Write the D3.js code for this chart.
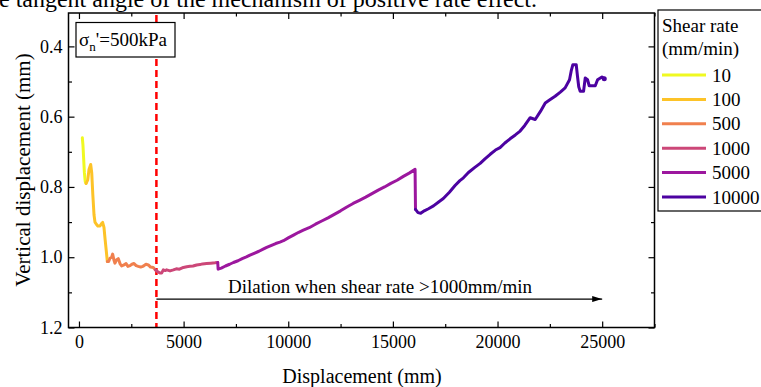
<!DOCTYPE html>
<html>
<head>
<meta charset="utf-8">
<script src="https://cdn.jsdelivr.net/npm/d3@7"></script>
<style>
  body { margin: 0; background: #fff; }
  svg { display: block; font-family: "Liberation Serif", "Times New Roman", serif; }
</style>
</head>
<body>
<div id="chart"></div>
<script>
// Vertical displacement vs shear displacement, coloured by shear rate
const rates = ["10", "100", "500", "1000", "5000", "10000"];
const rateColors = ["#f0f921", "#fdc328", "#f0804e", "#cc4778", "#9c179e", "#4c02a1"];

// [displacement (mm), vertical displacement (mm)] per shear-rate stage
const seg10 = [[160, 0.660], [190, 0.680], [220, 0.715], [260, 0.760], [300, 0.785], [340, 0.790]];
const seg100 = [[340, 0.790], [420, 0.780], [480, 0.750], [560, 0.736], [610, 0.760], [660, 0.820],
  [720, 0.880], [765, 0.900], [830, 0.906], [900, 0.911], [1004, 0.911], [1080, 0.904], [1130, 0.901],
  [1195, 0.915], [1250, 0.950], [1310, 0.985], [1355, 1.012]];
const seg500 = [[1355, 1.012], [1420, 1.012], [1480, 1.003], [1560, 1.000], [1610, 0.991], [1670, 1.008],
  [1720, 1.017], [1790, 1.008], [1880, 1.004], [1960, 1.018], [2040, 1.025], [2150, 1.022], [2250, 1.018],
  [2340, 1.026], [2440, 1.024], [2530, 1.020], [2630, 1.018], [2730, 1.024], [2835, 1.026], [2950, 1.028],
  [3050, 1.026], [3110, 1.024], [3200, 1.020], [3315, 1.022], [3420, 1.028], [3550, 1.029], [3650, 1.036]];
const seg1000 = [[3650, 1.036], [3750, 1.041], [3870, 1.045], [3950, 1.045], [4030, 1.036], [4120, 1.038],
  [4190, 1.036], [4350, 1.039], [4510, 1.036], [4650, 1.033], [4800, 1.034], [4990, 1.029], [5150, 1.027],
  [5300, 1.026], [5450, 1.025], [5620, 1.022], [5780, 1.021], [5900, 1.019], [6100, 1.018], [6300, 1.017],
  [6500, 1.016], [6630, 1.015]];
const seg5000 = [[6630, 1.015], [6650, 1.034], [6800, 1.031], [7000, 1.025], [7200, 1.020], [7380, 1.015],
  [7600, 1.010], [7800, 1.004], [8000, 0.999], [8170, 0.994], [8400, 0.988], [8600, 0.983], [8800, 0.977],
  [8970, 0.972], [9200, 0.966], [9400, 0.961], [9600, 0.957], [9770, 0.953], [10000, 0.945], [10250, 0.937],
  [10500, 0.929], [10720, 0.923], [11000, 0.916], [11300, 0.906], [11600, 0.897], [11900, 0.888],
  [12200, 0.878], [12500, 0.868], [12800, 0.857], [13100, 0.847], [13400, 0.838], [13700, 0.829],
  [14000, 0.819], [14300, 0.809], [14600, 0.800], [14900, 0.790], [15200, 0.781], [15500, 0.770],
  [15800, 0.760], [16060, 0.750], [16080, 0.864]];
const seg10000 = [[16080, 0.864], [16200, 0.873], [16330, 0.875], [16500, 0.868], [16700, 0.862],
  [16940, 0.854], [17200, 0.842], [17410, 0.833], [17700, 0.815], [17970, 0.796], [18200, 0.782],
  [18370, 0.774], [18610, 0.759], [18900, 0.745], [19170, 0.733], [19400, 0.720], [19650, 0.707],
  [19900, 0.695], [20120, 0.688], [20350, 0.675], [20600, 0.663], [20850, 0.652], [21080, 0.641],
  [21300, 0.625], [21560, 0.603], [21800, 0.608], [22050, 0.585], [22280, 0.561], [22500, 0.552],
  [22750, 0.542], [23000, 0.530], [23230, 0.518], [23440, 0.495], [23520, 0.470], [23600, 0.452],
  [23760, 0.452], [23820, 0.485], [23880, 0.515], [23950, 0.528], [24110, 0.528], [24190, 0.490],
  [24300, 0.495], [24380, 0.512], [24670, 0.512], [24780, 0.495], [24990, 0.487], [25100, 0.492]];
const segments = [seg10, seg100, seg500, seg1000, seg5000, seg10000];

const xMajorTicks = [0, 5000, 10000, 15000, 20000, 25000];
const xMinorTicks = [2500, 7500, 12500, 17500, 22500, 27500];
const yMajorTicks = [0.4, 0.6, 0.8, 1.0, 1.2];
const yMinorTicks = [0.5, 0.7, 0.9, 1.1];

const rateChangeDisp = 3700;      // red dashed marker
const dilationArrow = [3700, 25000]; // arrow span
const dilationLevel = 1.119;

const width = 761, height = 387;
const plot = { left: 68.5, right: 654.5, top: 13, bottom: 327.5 };

const svg = d3.select("#chart").append("svg")
  .attr("width", width).attr("height", height);

const x = d3.scaleLinear().domain([-500, 27500]).range([plot.left, plot.right]);
const y = d3.scaleLinear().domain([0.305, 1.2]).range([plot.top, plot.bottom]);

// caption remnant clipped at the top of the picture
svg.append("text")
  .attr("x", 537).attr("y", 7)
  .attr("text-anchor", "end")
  .style("font-size", "24px")
  .text("e tangent angle of the mechanism of positive rate effect.");

// red dashed line where the shear rate reaches 1000 mm/min
svg.append("line")
  .attr("x1", x(rateChangeDisp)).attr("x2", x(rateChangeDisp))
  .attr("y1", plot.top + 2).attr("y2", plot.bottom)
  .attr("stroke", "#ff0000").attr("stroke-width", 2.5)
  .attr("stroke-dasharray", "7,4");

// curve segments
const line = d3.line().x(d => x(d[0])).y(d => y(d[1]));
svg.append("g").selectAll("path")
  .data(segments)
  .join("path")
  .attr("d", line)
  .attr("fill", "none")
  .attr("stroke", (d, i) => rateColors[i])
  .attr("stroke-width", 3)
  .attr("stroke-linejoin", "round")
  .attr("stroke-linecap", "round");

const last = seg10000[seg10000.length - 1];
svg.append("circle")
  .attr("cx", x(last[0])).attr("cy", y(last[1])).attr("r", 2.5)
  .attr("fill", rateColors[5]);

// axes with inward ticks
const styleAxis = g => {
  g.select(".domain").remove();
  g.selectAll(".tick line").attr("stroke", "#000").attr("stroke-width", 1.2);
  g.selectAll("text").style("font-size", "18px").style("font-family", "Liberation Serif, serif").attr("fill", "#000");
};

svg.append("g").attr("transform", `translate(0,${plot.bottom})`)
  .call(d3.axisBottom(x).tickValues(xMajorTicks).tickSize(-6).tickPadding(8).tickFormat(d3.format("d")))
  .call(styleAxis);
svg.append("g").attr("transform", `translate(0,${plot.bottom})`)
  .call(d3.axisBottom(x).tickValues(xMinorTicks).tickSize(-3.5).tickFormat(""))
  .call(styleAxis);
svg.append("g").attr("transform", `translate(0,${plot.top})`)
  .call(d3.axisTop(x).tickValues(xMajorTicks).tickSize(-6).tickFormat(""))
  .call(styleAxis);
svg.append("g").attr("transform", `translate(0,${plot.top})`)
  .call(d3.axisTop(x).tickValues(xMinorTicks).tickSize(-3.5).tickFormat(""))
  .call(styleAxis);

svg.append("g").attr("transform", `translate(${plot.left},0)`)
  .call(d3.axisLeft(y).tickValues(yMajorTicks).tickSize(-6).tickPadding(6).tickFormat(d3.format(".1f")))
  .call(styleAxis);
svg.append("g").attr("transform", `translate(${plot.left},0)`)
  .call(d3.axisLeft(y).tickValues(yMinorTicks).tickSize(-3.5).tickFormat(""))
  .call(styleAxis);
svg.append("g").attr("transform", `translate(${plot.right},0)`)
  .call(d3.axisRight(y).tickValues(yMajorTicks).tickSize(-6).tickFormat(""))
  .call(styleAxis);
svg.append("g").attr("transform", `translate(${plot.right},0)`)
  .call(d3.axisRight(y).tickValues(yMinorTicks).tickSize(-3.5).tickFormat(""))
  .call(styleAxis);

// frame
svg.append("rect")
  .attr("x", plot.left).attr("y", plot.top)
  .attr("width", plot.right - plot.left).attr("height", plot.bottom - plot.top)
  .attr("fill", "none").attr("stroke", "#000").attr("stroke-width", 1.5);

// axis titles
svg.append("text")
  .attr("x", 362).attr("y", 383)
  .attr("text-anchor", "middle")
  .style("font-size", "20px")
  .text("Displacement (mm)");

svg.append("text")
  .attr("transform", "translate(30,170) rotate(-90)")
  .attr("text-anchor", "middle")
  .style("font-size", "21px")
  .text("Vertical displacement (mm)");

// normal stress box
const boxG = svg.append("g");
boxG.append("rect")
  .attr("x", 76).attr("y", 22.5).attr("width", 99).attr("height", 34.5)
  .attr("fill", "#fff").attr("stroke", "#000").attr("stroke-width", 1.2);
const sigma = boxG.append("text").attr("x", 79).attr("y", 46).style("font-size", "19px");
sigma.append("tspan").text("σ");
sigma.append("tspan").attr("dy", 5).style("font-size", "13px").text("n");
sigma.append("tspan").attr("dy", -5).text("'=500kPa");

// dilation arrow
svg.append("defs").append("marker")
  .attr("id", "arrowhead")
  .attr("viewBox", "0 0 10 6").attr("refX", 10).attr("refY", 3)
  .attr("markerWidth", 10).attr("markerHeight", 6)
  .attr("markerUnits", "userSpaceOnUse")
  .attr("orient", "auto")
  .append("path").attr("d", "M0,0 L10,3 L0,6 Z").attr("fill", "#000");

svg.append("line")
  .attr("x1", x(dilationArrow[0])).attr("x2", x(dilationArrow[1]))
  .attr("y1", y(dilationLevel)).attr("y2", y(dilationLevel))
  .attr("stroke", "#000").attr("stroke-width", 1.2)
  .attr("marker-end", "url(#arrowhead)");

svg.append("text")
  .attr("x", 380).attr("y", y(dilationLevel) - 6)
  .attr("text-anchor", "middle")
  .style("font-size", "19px")
  .text("Dilation when shear rate >1000mm/min");

// legend
const legendG = svg.append("g");
legendG.append("rect")
  .attr("x", 658).attr("y", 10).attr("width", 110).attr("height", 201)
  .attr("fill", "#fff").attr("stroke", "#000").attr("stroke-width", 1.2);
legendG.append("text").attr("x", 662).attr("y", 32).style("font-size", "19px").text("Shear rate");
legendG.append("text").attr("x", 662).attr("y", 55).style("font-size", "19px").text("(mm/min)");

const legendY = d3.scalePoint().domain(rates).range([75, 197]);
const items = legendG.selectAll(".item").data(rates).join("g").attr("class", "item");
items.append("line")
  .attr("x1", 662).attr("x2", 706)
  .attr("y1", d => legendY(d)).attr("y2", d => legendY(d))
  .attr("stroke", (d, i) => rateColors[i]).attr("stroke-width", 3);
items.append("text")
  .attr("x", 712).attr("y", d => legendY(d))
  .attr("dy", "0.35em")
  .style("font-size", "19px")
  .text(d => d);
</script>
</body>
</html>
